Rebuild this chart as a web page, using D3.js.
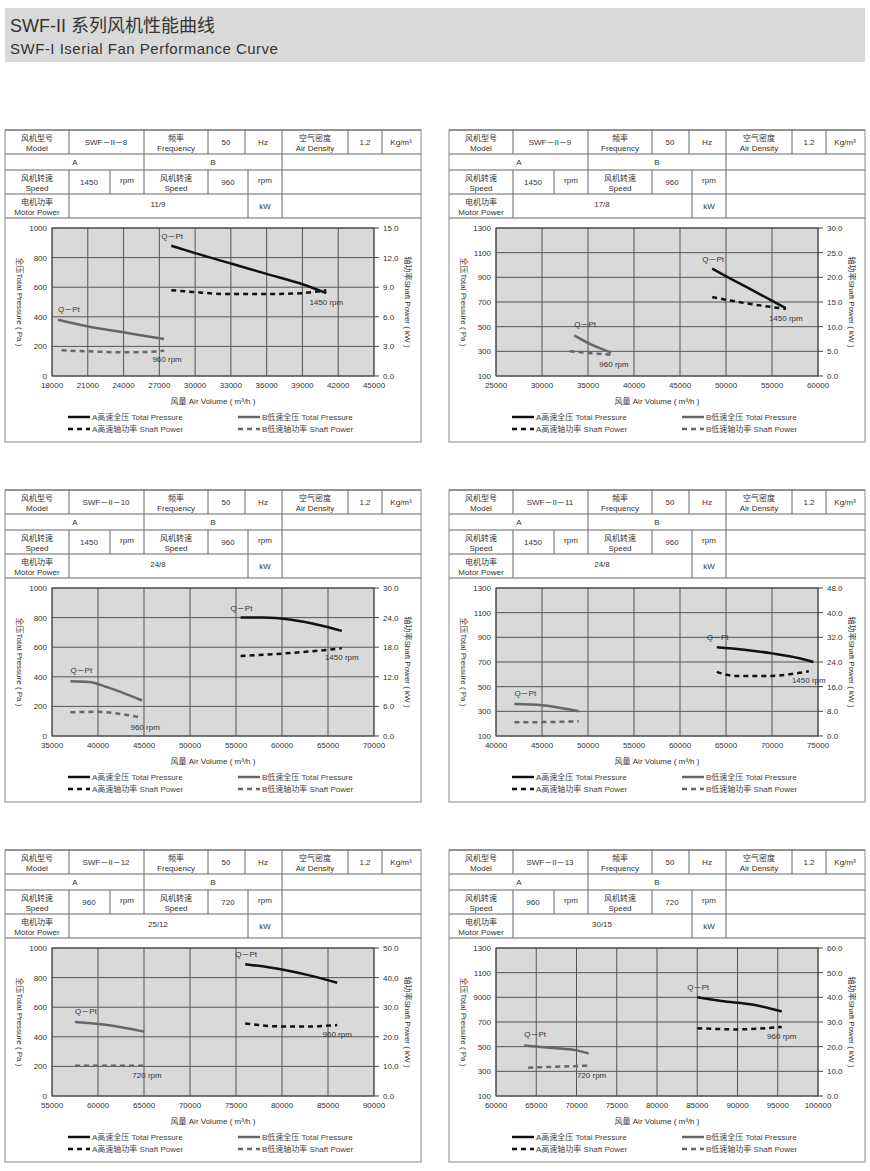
<!DOCTYPE html>
<html><head><meta charset="utf-8">
<script src="https://cdn.jsdelivr.net/npm/d3@7"></script>
<style>body{margin:0;background:#fff;font-family:"Liberation Sans","Noto Sans CJK SC",sans-serif;}</style>
</head><body>
<script>
// panel info
var models = ["SWF－II－8","SWF－II－9","SWF－II－10","SWF－II－11","SWF－II－12","SWF－II－13"];
var speedA = ["1450","1450","1450","1450","960","960"];
var speedB = ["960","960","960","960","720","720"];
var motorPower = ["11/9","17/8","24/8","24/8","25/12","30/15"];
var xDomains = [[18000,45000,3000],[25000,60000,5000],[35000,70000,5000],[40000,75000,5000],[55000,90000,5000],[60000,100000,5000]];
var leftDomains = [[0,1000,200],[100,1300,200],[0,1000,200],[100,1300,200],[0,1000,200],[100,1300,200]];
var rightDomains = [[0,15,3],[0,30,5],[0,30,6],[0,48,8],[0,50,10],[0,60,10]];
var leftTickText = [null,null,null,null,null,["100","300","500","700","9000","1100","1300"]];
var xTickText = [null,null,null,null,null,["60000","65000","70000","75000","80000","85000","90000","95000","100000"]];

// curves [x, value]
var aPressure = [
  [[28000,880],[30000,830],[33000,760],[36000,690],[39000,620],[41000,560]],
  [[48500,970],[51000,870],[53500,770],[56500,650]],
  [[55500,800],[58000,800],[61000,785],[64000,750],[66500,710]],
  [[64000,820],[67000,800],[70000,770],[73000,730],[74500,700]],
  [[76000,890],[80000,855],[83000,815],[86000,765]],
  [[85000,900],[88000,870],[92000,840],[95500,785]]];
var bPressure = [
  [[18500,380],[21000,335],[24000,295],[27000,255],[27400,250]],
  [[33500,430],[35500,350],[37500,290]],
  [[37000,370],[39000,365],[41000,330],[43000,285],[44800,240]],
  [[42000,360],[45000,350],[48000,315],[49000,300]],
  [[57500,500],[61000,480],[65000,435]],
  [[63500,510],[67000,490],[70000,470],[71500,445]]];
var aPower = [
  [[28000,8.7],[30000,8.5],[33000,8.3],[36000,8.3],[39000,8.4],[41000,8.7]],
  [[48500,16.0],[52000,14.8],[56500,13.6]],
  [[55500,16.2],[60000,16.7],[64000,17.3],[66500,17.8]],
  [[64000,20.8],[66000,19.5],[70000,19.5],[73000,20.5],[74000,21.0]],
  [[76000,24.5],[80000,23.5],[83000,23.5],[86000,24.0]],
  [[85000,27.5],[90000,27.0],[95500,28.0]]];
var bPower = [
  [[18800,2.6],[21000,2.5],[24000,2.4],[27000,2.5],[27400,2.6]],
  [[33000,5.0],[35500,4.6],[37500,4.3]],
  [[37000,4.8],[40000,4.9],[43000,4.3],[44800,3.7]],
  [[42000,4.5],[45000,4.5],[49000,4.8]],
  [[57500,10.2],[65000,10.2]],
  [[64000,11.5],[71500,12.3]]];
var rpmA = ["1450 rpm","1450 rpm","1450 rpm","1450 rpm","960 rpm","960 rpm"];
var rpmB = ["960 rpm","960 rpm","960 rpm","","720 rpm","720 rpm"];

var svg = d3.select("body").append("svg").attr("width",870).attr("height",1171);
svg.append("rect").attr("x",5).attr("y",8).attr("width",860).attr("height",54).attr("fill","#d9d9d9");
svg.append("text").attr("x",10).attr("y",32).attr("font-size",18).attr("fill","#333").text("SWF-II 系列风机性能曲线");
svg.append("text").attr("x",10).attr("y",54).attr("font-size",15).attr("letter-spacing",0.5).attr("fill","#333").text("SWF-I Iserial Fan Performance Curve");

var origins = [[5,130],[449,130],[5,490],[449,490],[5,850],[449,850]];
var W = 416, H = 312;

function cellText(g, x, y, lines, size){
  var t = g.append("text").attr("x",x).attr("text-anchor","middle").attr("font-size",size||8).attr("fill","#333");
  if (lines.length == 1) t.attr("y",y+3).text(lines[0]);
  else lines.forEach(function(l,i){ t.append("tspan").attr("x",x).attr("y",y-1+i*10).text(l); });
}

origins.forEach(function(o, p){
  var g = svg.append("g").attr("transform","translate("+o[0]+","+o[1]+")");
  g.append("rect").attr("width",W).attr("height",H).attr("fill","#fff").attr("stroke","#888");
  // table
  var rows = [0,24,40,64,88];
  rows.forEach(function(r){ g.append("line").attr("x1",0).attr("x2",W).attr("y1",r).attr("y2",r).attr("stroke","#666"); });
  function vl(x,y1,y2){ g.append("line").attr("x1",x).attr("x2",x).attr("y1",y1).attr("y2",y2).attr("stroke","#666"); }
  [64,139,203,240,277,343,377].forEach(function(x){ vl(x,0,24); });
  [139,277].forEach(function(x){ vl(x,24,40); });
  [64,105,139,203,243,277].forEach(function(x){ vl(x,40,64); });
  [64,243,277].forEach(function(x){ vl(x,64,88); });
  cellText(g,32,12,["风机型号","Model"]);
  cellText(g,101,12,[models[p]]);
  cellText(g,171,12,["频率","Frequency"]);
  cellText(g,221,12,["50"]);
  cellText(g,258,12,["Hz"]);
  cellText(g,310,12,["空气密度","Air Density"]);
  cellText(g,360,12,["1.2"]);
  cellText(g,396,12,["Kg/m³"]);
  cellText(g,70,32,["A"]);
  cellText(g,208,32,["B"]);
  cellText(g,32,52,["风机转速","Speed"]);
  cellText(g,84,52,[speedA[p]]);
  cellText(g,122,50,["rpm"]);
  cellText(g,171,52,["风机转速","Speed"]);
  cellText(g,223,52,[speedB[p]]);
  cellText(g,260,50,["rpm"]);
  cellText(g,32,76,["电机功率","Motor Power"]);
  cellText(g,153,74,[motorPower[p]]);
  cellText(g,260,76,["kW"]);

  // chart
  var xd = xDomains[p], ld = leftDomains[p], rd = rightDomains[p];
  var x = d3.scaleLinear().domain([xd[0],xd[1]]).range([47,369]);
  var yl = d3.scaleLinear().domain([ld[0],ld[1]]).range([246,98]);
  var yr = d3.scaleLinear().domain([rd[0],rd[1]]).range([246,98]);
  var xt = d3.range(xd[0],xd[1]+1,xd[2]);
  var lt = d3.range(ld[0],ld[1]+1,ld[2]);
  var rt = d3.range(rd[0],rd[1]+0.001,rd[2]);
  g.append("rect").attr("x",47).attr("y",98).attr("width",322).attr("height",148).attr("fill","#d9d9d9");
  g.selectAll(".gx").data(xt).enter().append("line").attr("x1",x).attr("x2",x).attr("y1",98).attr("y2",246).attr("stroke","#555");
  g.selectAll(".gy").data(lt).enter().append("line").attr("y1",yl).attr("y2",yl).attr("x1",47).attr("x2",369).attr("stroke","#555");
  g.append("rect").attr("x",47).attr("y",98).attr("width",322).attr("height",148).attr("fill","none").attr("stroke","#444");
  g.selectAll(".tx").data(xt).enter().append("text").attr("x",x).attr("y",258).attr("text-anchor","middle").attr("font-size",8).attr("fill","#333")
    .text(function(d,i){ return xTickText[p] ? xTickText[p][i] : d; });
  g.selectAll(".tl").data(lt).enter().append("text").attr("x",42).attr("y",function(d){return yl(d)+3;}).attr("text-anchor","end").attr("font-size",8).attr("fill","#333")
    .text(function(d,i){ return leftTickText[p] ? leftTickText[p][i] : d; });
  g.selectAll(".rtk").data(rt).enter().append("line").attr("x1",369).attr("x2",374).attr("y1",yr).attr("y2",yr).attr("stroke","#444");
  g.selectAll(".tr").data(rt).enter().append("text").attr("x",378).attr("y",function(d){return yr(d)+3;}).attr("font-size",8).attr("fill","#333")
    .text(function(d){ return d.toFixed(1); });
  g.append("text").attr("transform","translate(12,172) rotate(90)").attr("text-anchor","middle").attr("font-size",8).attr("fill","#333").text("全压Total Pressure ( Pa )");
  g.append("text").attr("transform","translate(400,172) rotate(90)").attr("text-anchor","middle").attr("font-size",8).attr("fill","#333").text("轴功率Shaft Power ( kW )");
  g.append("text").attr("x",208).attr("y",274).attr("text-anchor","middle").attr("font-size",8).attr("fill","#333").text("风量 Air Volume ( m³/h )");

  var lp = d3.line().x(function(d){return x(d[0]);}).y(function(d){return yl(d[1]);}).curve(d3.curveMonotoneX);
  var lw = d3.line().x(function(d){return x(d[0]);}).y(function(d){return yr(d[1]);}).curve(d3.curveMonotoneX);
  g.append("path").attr("d",lp(aPressure[p])).attr("fill","none").attr("stroke","#111").attr("stroke-width",2.5);
  g.append("path").attr("d",lp(bPressure[p])).attr("fill","none").attr("stroke","#666").attr("stroke-width",2.5);
  g.append("path").attr("d",lw(aPower[p])).attr("fill","none").attr("stroke","#111").attr("stroke-width",2.5).attr("stroke-dasharray","5,4");
  g.append("path").attr("d",lw(bPower[p])).attr("fill","none").attr("stroke","#666").attr("stroke-width",2.5).attr("stroke-dasharray","5,4");
  var a0 = aPressure[p][0], b0 = bPressure[p][0];
  g.append("text").attr("x",x(a0[0])-10).attr("y",yl(a0[1])-7).attr("font-size",8).attr("fill","#333").text("Q－Pt");
  g.append("text").attr("x",x(b0[0])).attr("y",yl(b0[1])-8).attr("font-size",8).attr("fill","#333").text("Q－Pt");
  var aE = aPower[p][aPower[p].length-1], bE = bPower[p][bPower[p].length-1];
  var aP = aPressure[p][aPressure[p].length-1], bP = bPressure[p][bPressure[p].length-1];
  var aY = Math.max(yr(aE[1]), yl(aP[1])) + 12, bY = Math.max(yr(bE[1]), yl(bP[1])) + 12;
  g.append("text").attr("x",x(aE[0])).attr("y",aY).attr("text-anchor","middle").attr("font-size",8).attr("fill","#333").text(rpmA[p]);
  g.append("text").attr("x",x(bE[0])+3).attr("y",bY).attr("text-anchor","middle").attr("font-size",8).attr("fill","#333").text(rpmB[p]);

  // legend
  var leg = [[63,287,"#111",null,"A高速全压 Total Pressure"],[233,287,"#666",null,"B低速全压 Total Pressure"],
             [63,299,"#111","5,4","A高速轴功率 Shaft Power"],[233,299,"#666","5,4","B低速轴功率 Shaft Power"]];
  leg.forEach(function(l){
    g.append("line").attr("x1",l[0]).attr("x2",l[0]+22).attr("y1",l[1]).attr("y2",l[1]).attr("stroke",l[2]).attr("stroke-width",2.5).attr("stroke-dasharray",l[3]);
    g.append("text").attr("x",l[0]+24).attr("y",l[1]+3).attr("font-size",8).attr("fill","#444").text(l[4]);
  });
});
</script>
</body></html>
